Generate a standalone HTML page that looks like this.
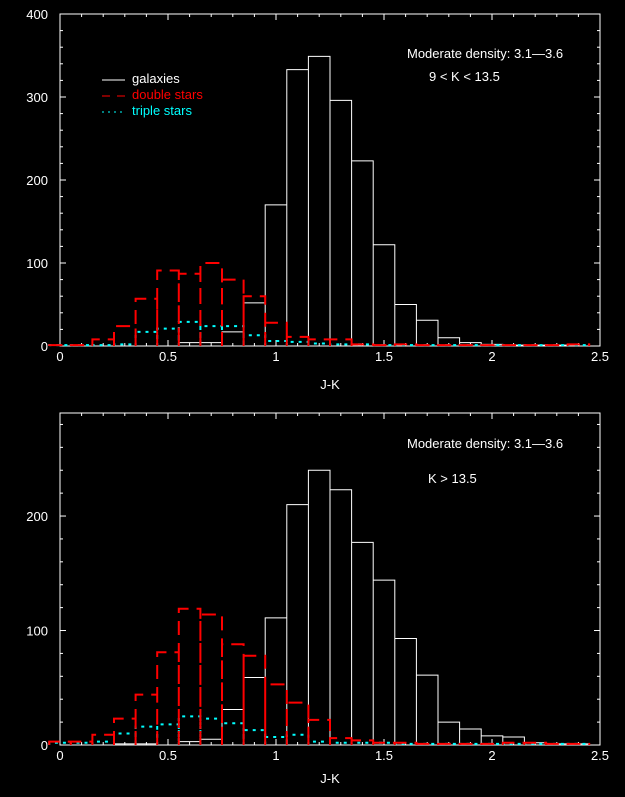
<!DOCTYPE html>
<html><head><meta charset="utf-8"><style>
html,body{margin:0;padding:0;background:#000;}
svg{display:block;}
text{font-family:"Liberation Sans",sans-serif;font-size:13px;fill:#fff;}
</style></head><body>
<svg id="s" width="625" height="797" xmlns="http://www.w3.org/2000/svg"></svg>
<script>
const s=document.getElementById('s');let h='';
const X0=60,XS=216,X1=600;
function xp(v){return X0+v*XS;}
function panel(top,bot,ymax,ystep,data,title2,t1y,t2x,t2y,legend,jky){
  const ys=(bot-top)/ymax; const yp=v=>bot-v*ys;
  h+=`<rect x="${X0}" y="${top}" width="${X1-X0}" height="${bot-top}" fill="none" stroke="#fff" stroke-width="1"/>`;
  for(let i=0;i<=25;i++){const x=xp(i*0.1);const L=(i%5==0)?6:3;
    h+=`<line x1="${x}" y1="${bot}" x2="${x}" y2="${bot-L}" stroke="#fff"/><line x1="${x}" y1="${top}" x2="${x}" y2="${top+L}" stroke="#fff"/>`;}
  for(let v=0;v<=ymax+0.01;v+=20){const y=yp(v);const L=(v%100==0)?6:3;
    h+=`<line x1="${X0}" y1="${y}" x2="${X0+L}" y2="${y}" stroke="#fff"/><line x1="${X1}" y1="${y}" x2="${X1-L}" y2="${y}" stroke="#fff"/>`;}
  for(let v=0;v<=ymax;v+=100){h+=`<text x="48" y="${yp(v)+5}" text-anchor="end">${v}</text>`;}
  const xl=['0','0.5','1','1.5','2','2.5'];
  xl.forEach((t,i)=>{h+=`<text x="${xp(i*0.5)}" y="${bot+15}" text-anchor="middle">${t}</text>`;});
  h+=`<text x="330" y="${jky}" text-anchor="middle">J-K</text>`;
  h+=`<text x="407" y="${t1y}">Moderate density: 3.1—3.6</text><text x="${t2x}" y="${t2y}">${title2}</text>`;
  const sty={w:'stroke="#fff" stroke-width="1"',r:'stroke="#f00" stroke-width="2" stroke-dasharray="14,8"',c:'stroke="#0ff" stroke-width="2" stroke-dasharray="3,5"'};
  for(const k of ['w','c','r']){const d=data[k];let p='';
    for(let i=0;i<d.length;i++){const v=d[i];if(v<=0)continue;const a=xp(i*0.1-0.05),b=xp(i*0.1+0.05),y=yp(v);
      p+=`M${a},${bot}V${y}H${b}V${bot}`;}
    h+=`<path d="${p}" fill="none" ${sty[k]}/>`;}
  if(legend){
    h+=`<line x1="102" y1="80" x2="125" y2="80" stroke="#fff"/><text x="132" y="83">galaxies</text>`;
    h+=`<line x1="102" y1="96" x2="125" y2="96" stroke="#f00" stroke-dasharray="8,7" stroke-width="1"/><text x="132" y="99" style="fill:#f00">double stars</text>`;
    h+=`<line x1="102" y1="112" x2="125" y2="112" stroke="#0ff" stroke-dasharray="2,4" stroke-width="1"/><text x="132" y="115" style="fill:#0ff">triple stars</text>`;
  }
}
panel(14,346,400,20,{
 w:[0,0,0,0,0,0,4,4,17,52,170,333,349,296,223,122,50,31,10,4,2,1,1,1,0],
 r:[1,1,8,24,57,91,87,100,80,60,28,11,8,8,2,1,2,1,1,1,1,1,1,1,2],
 c:[1,1,1,2,17,21,29,24,24,13,6,5,3,2,2,1,1,1,1,1,1,1,1,1,1]
},'9 &lt; K &lt; 13.5',58,429,81,true,389);
panel(413,745,290,20,{
 w:[0,0,0,1,1,0,3,5,31,59,111,210,240,223,177,144,93,61,20,14,8,7,2,1,1],
 r:[3,3,9,23,44,81,119,114,88,78,53,37,22,6,4,2,2,1,1,1,1,2,2,1,1],
 c:[2,2,3,10,16,18,25,23,19,13,7,9,3,2,2,2,1,1,1,1,1,1,1,1,1]
},'K &gt; 13.5',448,428,483,false,783);
s.innerHTML=h;
</script>
</body></html>
